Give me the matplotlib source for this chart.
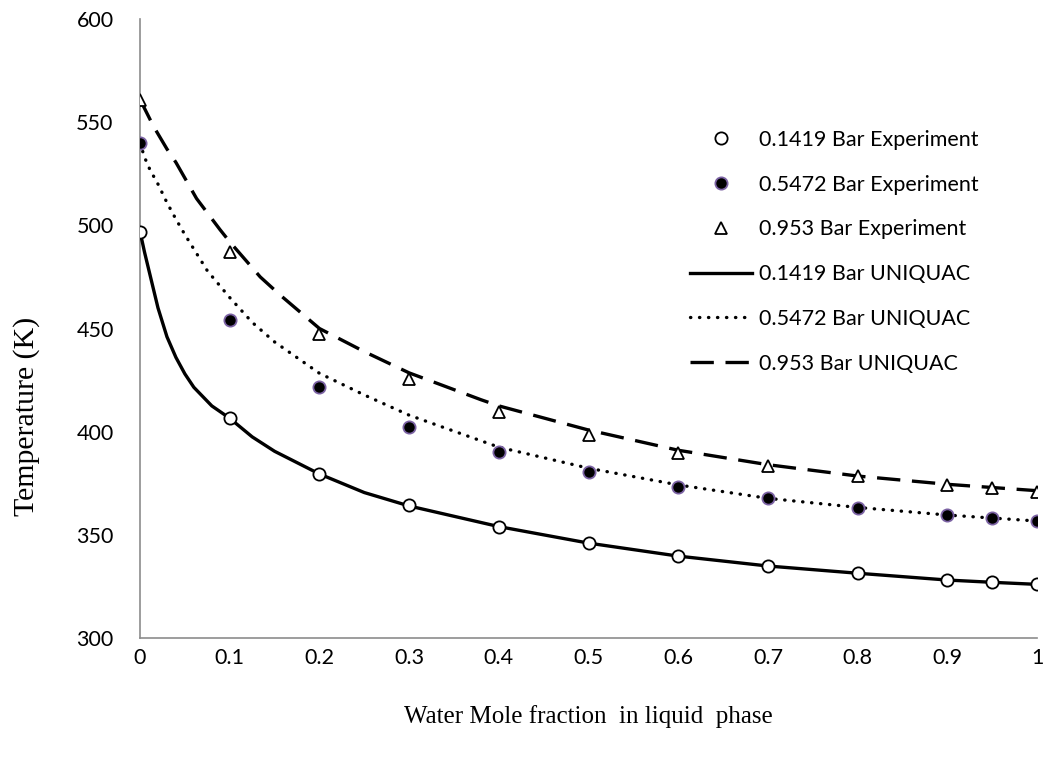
import numpy as np
import matplotlib
matplotlib.use("Agg")
import matplotlib.pyplot as plt

# experimental points
x_exp = [0, 0.1, 0.2, 0.3, 0.4, 0.5, 0.6, 0.7, 0.8, 0.9, 0.95, 1.0]
T_exp_01419 = [497, 406.6, 379.5, 364.5, 354, 346, 339.7, 334.9, 331.4, 328.1, 327, 326]
T_exp_05472 = [540, 454.1, 421.5, 402.4, 390, 380.6, 373.3, 367.7, 363.2, 359.6, 358, 356.7]
T_exp_0953 = [560.8, 487.3, 447.5, 425.4, 409.7, 398.4, 389.8, 383.4, 378.5, 374.2, 372.9, 371]

# UNIQUAC curves
x_uq1 = [0, 0.005, 0.01, 0.015, 0.02, 0.03, 0.04, 0.05, 0.06, 0.08, 0.1, 0.125, 0.15, 0.2, 0.25,
         0.3, 0.4, 0.5, 0.6, 0.7, 0.8, 0.9, 0.95, 1.0]
T_uq1 = [497, 487, 478, 469, 460, 446, 436, 428, 421.5, 412.5, 406.5, 397.5, 390.5, 379.5, 370.5,
         364, 354, 346, 339.7, 334.9, 331.4, 328.1, 327, 326]

x_uq2 = [0, 0.005, 0.011, 0.02, 0.03, 0.04, 0.05, 0.075, 0.1, 0.125, 0.15, 0.2, 0.25, 0.3,
         0.4, 0.5, 0.6, 0.7, 0.8, 0.9, 1.0]
T_uq2 = [540, 533, 527, 520, 511, 503, 495.5, 478, 465, 453, 443.5, 428.3, 417.8, 408,
         392.5, 382.3, 374.2, 367.7, 363.3, 359.6, 356.7]

x_uq3 = [0, 0.015, 0.03, 0.04, 0.063, 0.089, 0.1, 0.134, 0.156, 0.2, 0.25, 0.3, 0.38, 0.4,
         0.5, 0.6, 0.7, 0.8, 0.9, 1.0]
T_uq3 = [561, 548, 537, 530.5, 513, 498, 492, 475, 466.3, 450, 438.8, 428.5, 415.5, 412.5,
         400.8, 391, 384, 378.5, 374.5, 371.4]

fig = plt.figure(figsize=(10.49, 7.64), dpi=100)
ax = fig.add_axes([0.1335, 0.1649, 0.8551, 0.8102])

ax.plot(x_exp, T_exp_01419, linestyle='none', marker='o', markersize=8.8,
        markerfacecolor='white', markeredgecolor='black', markeredgewidth=1.3,
        label='0.1419 Bar Experiment', zorder=4)
ax.plot(x_exp, T_exp_05472, linestyle='none', marker='o', markersize=8.8,
        markerfacecolor='black', markeredgecolor='#7b62a3', markeredgewidth=1.3,
        label='0.5472 Bar Experiment', zorder=4)
ax.plot(x_exp, T_exp_0953, linestyle='none', marker='^', markersize=8.8,
        markerfacecolor='white', markeredgecolor='black', markeredgewidth=1.3,
        label='0.953 Bar Experiment', zorder=4)

ax.plot(x_uq1, T_uq1, color='black', linewidth=2.4, label='0.1419 Bar UNIQUAC', zorder=3)
ax.plot(x_uq2, T_uq2, color='black', linewidth=2.4, linestyle=(0, (0.1, 2.6)),
        dash_capstyle='round', label='0.5472 Bar UNIQUAC', zorder=3)
ax.plot(x_uq3, T_uq3, color='black', linewidth=2.4, linestyle=(0, (7, 3.5)),
        label='0.953 Bar UNIQUAC', zorder=3)

ax.set_xlim(0, 1)
ax.set_ylim(300, 600)
ax.set_xticks([0, 0.1, 0.2, 0.3, 0.4, 0.5, 0.6, 0.7, 0.8, 0.9, 1])
ax.set_xticklabels(['0', '0.1', '0.2', '0.3', '0.4', '0.5', '0.6', '0.7', '0.8', '0.9', '1'])
ax.set_yticks([300, 350, 400, 450, 500, 550, 600])

for s in ['top', 'right']:
    ax.spines[s].set_visible(False)
for s in ['left', 'bottom']:
    ax.spines[s].set_color('#8c8c8c')
    ax.spines[s].set_linewidth(1.2)
ax.tick_params(length=0, labelsize=15.5)
ax.tick_params(axis='x', pad=7)
ax.tick_params(axis='y', pad=19)
for lab in ax.get_xticklabels() + ax.get_yticklabels():
    lab.set_family('Lato')

ax.set_xlabel('Water Mole fraction  in liquid  phase', family='Liberation Serif',
              fontsize=18, labelpad=27)
ax.set_ylabel('Temperature (K)', family='Liberation Serif', fontsize=21.5)
ax.yaxis.set_label_coords(-0.111, 0.3586)

leg = ax.legend(loc='upper left', bbox_to_anchor=(0.6578, 0.830),
                bbox_transform=fig.transFigure, frameon=False,
                prop={'family': 'Lato', 'size': 15.5}, handlelength=2.9,
                labelspacing=1.15, handletextpad=0.3, borderpad=0, borderaxespad=0)

fig.savefig('out.png', dpi=100)
